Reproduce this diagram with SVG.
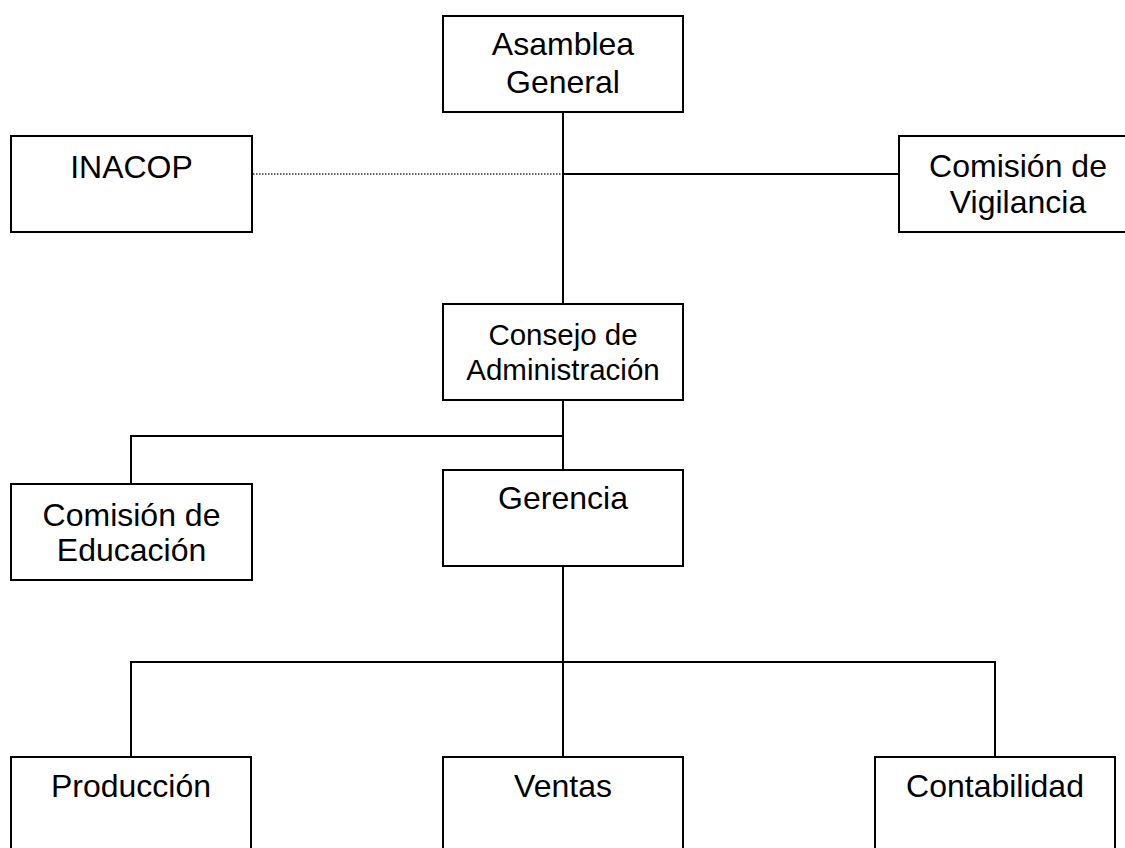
<svg xmlns="http://www.w3.org/2000/svg" width="1125" height="848" viewBox="0 0 1125 848">
<style>
.box{fill:#fff;stroke:#000;stroke-width:2}
.ln{fill:none;stroke:#000;stroke-width:2}
.dot{fill:none;stroke:#333;stroke-width:1.5;stroke-dasharray:1.5 1.5}
text{font-family:"Liberation Sans",Arial,sans-serif;font-size:32px;fill:#000;text-anchor:middle}
.sm{font-size:29.5px}
</style>
<rect width="1125" height="848" fill="#fff"/>
<g id="connectors">
<line class="dot" x1="253" y1="174" x2="563" y2="174"/>
<line class="ln" x1="563" y1="174" x2="899" y2="174"/>
<line class="ln" x1="563" y1="112" x2="563" y2="304"/>
<line class="ln" x1="563" y1="400" x2="563" y2="470"/>
<polyline class="ln" points="563,436 131,436 131,484"/>
<line class="ln" x1="563" y1="566" x2="563" y2="757"/>
<polyline class="ln" points="131,757 131,662 995,662 995,757"/>
</g>
<g id="asamblea">
<rect class="box" x="443" y="16" width="240" height="96"/>
<text x="563" y="55">Asamblea</text>
<text x="563" y="93">General</text>
</g>
<g id="inacop">
<rect class="box" x="11" y="136" width="241" height="96"/>
<text x="131.5" y="178">INACOP</text>
</g>
<g id="vigilancia">
<rect class="box" x="899" y="136" width="240" height="96"/>
<text x="1018" y="177">Comisión de</text>
<text x="1018" y="213">Vigilancia</text>
</g>
<g id="consejo">
<rect class="box" x="443" y="304" width="240" height="96"/>
<text class="sm" x="563" y="345">Consejo de</text>
<text class="sm" x="563" y="380">Administración</text>
</g>
<g id="educacion">
<rect class="box" x="11" y="484" width="241" height="96"/>
<text x="131.5" y="526">Comisión de</text>
<text x="131.5" y="561">Educación</text>
</g>
<g id="gerencia">
<rect class="box" x="443" y="470" width="240" height="96"/>
<text x="563" y="509">Gerencia</text>
</g>
<g id="produccion">
<rect class="box" x="11" y="757" width="240" height="110"/>
<text x="131" y="797">Producción</text>
</g>
<g id="ventas">
<rect class="box" x="443" y="757" width="240" height="110"/>
<text x="563" y="797">Ventas</text>
</g>
<g id="contabilidad">
<rect class="box" x="875" y="757" width="240" height="110"/>
<text x="995" y="797">Contabilidad</text>
</g>
</svg>
